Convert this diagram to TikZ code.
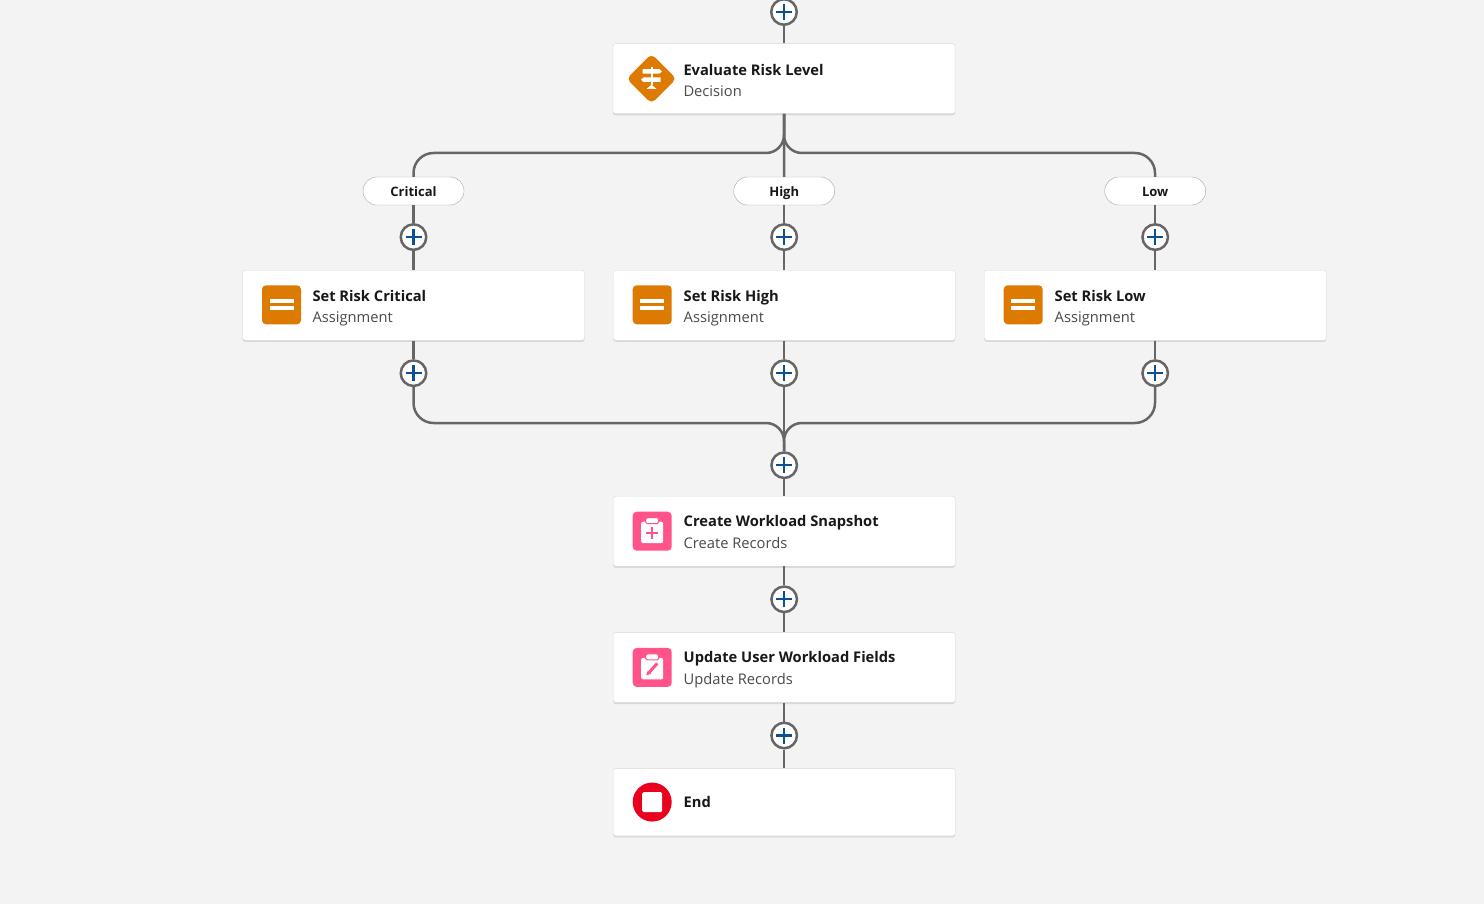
\documentclass[tikz,border=0pt]{standalone}
\usepackage{fontspec}
\setmainfont{Open Sans}
\usepackage{xcolor}
\usetikzlibrary{positioning, shapes.geometric, shadows}
\definecolor{canvasgray}{HTML}{F3F3F3}
\definecolor{linegray}{HTML}{666666}
\definecolor{plusblue}{HTML}{0B4F96}
\definecolor{decideorange}{HTML}{DD7A01}
\definecolor{recordpink}{HTML}{FF538A}
\definecolor{endred}{HTML}{EA001E}
\definecolor{titleblack}{HTML}{181818}
\definecolor{subgray}{HTML}{4A4A4A}

\tikzset{
  card/.style={draw=black!15, fill=white, rounded corners=2.5pt, minimum width=342pt, minimum height=70pt, inner sep=0pt,
    drop shadow={shadow xshift=0pt, shadow yshift=-1.6pt, opacity=.11, fill=black}},
  title/.style={anchor=west, inner sep=0pt, text height=11pt, text depth=4pt, font=\fontsize{14.7}{18}\selectfont\bfseries, text=titleblack},
  subtitle/.style={anchor=west, inner sep=0pt, text height=11pt, text depth=4pt, font=\fontsize{14.7}{18}\selectfont, text=subgray},
  pill/.style={draw=black!35, fill=white, rounded corners=14pt, minimum width=101pt, minimum height=28pt, inner sep=0pt,
    text height=11pt, text depth=0pt, font=\fontsize{13}{16}\selectfont\bfseries, text=titleblack},
  addbtn/.style={circle, draw=linegray, line width=2.5pt, fill=white, minimum size=25.5pt, inner sep=0pt,
    path picture={\draw[plusblue, line width=2.2pt] ([xshift=-8pt]path picture bounding box.center) -- ([xshift=8pt]path picture bounding box.center)
      ([yshift=-8pt]path picture bounding box.center) -- ([yshift=8pt]path picture bounding box.center);}},
  flowline/.style={draw=linegray, line width=2.5pt},
  iconsq/.style={rounded corners=4pt, minimum size=39pt, inner sep=0pt},
  pics/bars/.style={code={
    \fill[white] (-12,-5.5) rectangle (12,-1.8);
    \fill[white] (-12,1.2) rectangle (12,4.8);}},
  pics/clip/.style={code={
    \fill[white, rounded corners=2pt] (-11,-9.5) rectangle (11,12);
    \fill[white, draw=recordpink, line width=1pt, rounded corners=1.5pt] (-6.5,-13.5) rectangle (6.5,-7.5);}},
  pics/signpost/.style={code={
    \fill[white] (-1,-12) rectangle (1,6);
    \fill[white] (-9,-9.5) -- (8,-9.5) -- (10.5,-7.2) -- (8,-5) -- (-9,-5) -- cycle;
    \fill[white] (9,-1.3) -- (-8,-1.3) -- (-10.5,1) -- (-8,3.3) -- (9,3.3) -- cycle;
    \fill[white] (-5,10.3) -- (0,6) -- (5,10.3) -- cycle;}},
  pics/pencil/.style={code={
    \draw[recordpink, line width=3pt] (5,-6) -- (-3,3);
    \fill[recordpink] (-4.5,1.2) -- (-1,4.3) -- (-6,6) -- cycle;}}
}

\begin{document}
\begin{tikzpicture}[x=1pt, y=-1pt]
\useasboundingbox (0,0) rectangle (1484,904);
\fill[canvasgray] (0,0) rectangle (1484,904);

% top of the column
\node[addbtn] (addtop) at (784,12) {};
\node[card, below=17.5pt of addtop] (decide) {};

% three branches
\node[pill] (pillcrit) at (413.5,191) {Critical};
\node[pill, right=269.3pt of pillcrit] (pillhigh) {High};
\node[pill, right=269.6pt of pillhigh] (pilllow) {Low};
\node[addbtn, below=17.9pt of pillcrit] (addcrit) {};
\node[addbtn, below=17.9pt of pillhigh] (addhigh) {};
\node[addbtn, below=17.9pt of pilllow] (addlow) {};
\node[card, below=19pt of addcrit] (critical) {};
\node[card, below=19pt of addhigh] (high) {};
\node[card, below=19pt of addlow] (low) {};
\node[addbtn, below=18.7pt of critical] (addcritb) {};
\node[addbtn, below=18.7pt of high] (addhighb) {};
\node[addbtn, below=18.7pt of low] (addlowb) {};

% after the merge
\node[addbtn, below=64pt of addhighb] (addmerge) {};
\node[card, below=16.8pt of addmerge] (snapshot) {};
\node[addbtn, below=18.9pt of snapshot] (addsnap) {};
\node[card, below=18.9pt of addsnap] (update) {};
\node[addbtn, below=18.9pt of update] (addupd) {};
\node[card, minimum height=67.5pt, below=18.6pt of addupd] (finish) {};

\coordinate (splitl) at (413.5,153);
\coordinate (splitm) at (784,153);
\coordinate (splitr) at (1155,153);
\coordinate (mergel) at (413.5,423);
\coordinate (mergem) at (784,423);
\coordinate (merger) at (1155,423);

\draw[flowline] (addtop) -- (decide);
\draw[flowline] (decide.south) -- (pillhigh);
\draw[flowline] (decide.south) -- ([yshift=18pt]splitm) .. controls +(0,10) and +(10,0) .. ([xshift=-18pt]splitm) -- ([xshift=20pt]splitl) .. controls +(-11,0) and +(0,-11) .. ([yshift=-20pt]splitl) -- (pillcrit);
\draw[flowline] (decide.south) -- ([yshift=18pt]splitm) .. controls +(0,10) and +(-10,0) .. ([xshift=18pt]splitm) -- ([xshift=-20pt]splitr) .. controls +(11,0) and +(0,-11) .. ([yshift=-20pt]splitr) -- (pilllow);
\draw[flowline] (pillcrit) -- (addcrit);
\draw[flowline] (pillhigh) -- (addhigh);
\draw[flowline] (pilllow) -- (addlow);
\draw[flowline] (addcrit) -- (critical);
\draw[flowline] (addhigh) -- (high);
\draw[flowline] (addlow) -- (low);
\draw[flowline] (critical) -- (addcritb);
\draw[flowline] (high) -- (addhighb);
\draw[flowline] (low) -- (addlowb);
\draw[flowline] (addhighb) -- (addmerge);
\draw[flowline] (addcritb) -- ([yshift=20pt]mergel) .. controls +(0,11) and +(-11,0) .. ([xshift=20pt]mergel) -- ([xshift=-18pt]mergem) .. controls +(10,0) and +(0,-10) .. ([yshift=-18pt]mergem) -- (addmerge);
\draw[flowline] (addlowb) -- ([yshift=20pt]merger) .. controls +(0,11) and +(11,0) .. ([xshift=-20pt]merger) -- ([xshift=18pt]mergem) .. controls +(-10,0) and +(0,-10) .. ([yshift=-18pt]mergem) -- (addmerge);
\draw[flowline] (addmerge) -- (snapshot);
\draw[flowline] (snapshot) -- (addsnap);
\draw[flowline] (addsnap) -- (update);
\draw[flowline] (update) -- (addupd);
\draw[flowline] (addupd) -- (finish);

% icons
\node[diamond, fill=decideorange, rounded corners=5pt, minimum size=50pt, inner sep=0pt, right=13.5pt of decide.west] (iconde) {};
\pic at (iconde) {signpost};
\node[iconsq, fill=decideorange, right=19.5pt of critical.west, yshift=.5pt] (iconcr) {};
\pic at (iconcr) {bars};
\node[iconsq, fill=decideorange, right=19.5pt of high.west, yshift=.5pt] (iconhi) {};
\pic at (iconhi) {bars};
\node[iconsq, fill=decideorange, right=19.5pt of low.west, yshift=.5pt] (iconlo) {};
\pic at (iconlo) {bars};
\node[iconsq, fill=recordpink, right=19.5pt of snapshot.west] (iconsn) {};
\pic at (iconsn) {clip};
\draw[recordpink, line width=1.5pt] ([yshift=-2pt]iconsn.center) ++(-6,0) -- ++(12,0) ++(-6,-6) -- ++(0,12);
\node[iconsq, fill=recordpink, right=19.5pt of update.west] (iconup) {};
\pic at (iconup) {clip};
\pic at ([yshift=-2pt]iconup.center) {pencil};
\node[circle, fill=endred, minimum size=39pt, inner sep=0pt, right=19.5pt of finish.west] (iconen) {};
\node[fill=white, rounded corners=1.5pt, minimum size=20pt, inner sep=0pt] (stopmark) at (iconen) {};

% labels
\node[title, right=70.5pt of decide.west, yshift=7pt] (tde) {Evaluate Risk Level};
\node[subtitle, right=70.5pt of decide.west, yshift=-14.5pt] (sde) {Decision};
\node[title, right=70pt of critical.west, yshift=7.5pt] (tcr) {Set Risk Critical};
\node[subtitle, right=70pt of critical.west, yshift=-14pt] (scr) {Assignment};
\node[title, right=70.5pt of high.west, yshift=7.5pt] (thi) {Set Risk High};
\node[subtitle, right=70.5pt of high.west, yshift=-14pt] (shi) {Assignment};
\node[title, right=70.5pt of low.west, yshift=7.5pt] (tlo) {Set Risk Low};
\node[subtitle, right=70.5pt of low.west, yshift=-14pt] (slo) {Assignment};
\node[title, right=70.5pt of snapshot.west, yshift=8.5pt] (tsn) {Create Workload Snapshot};
\node[subtitle, right=70.5pt of snapshot.west, yshift=-13.5pt] (ssn) {Create Records};
\node[title, right=70.5pt of update.west, yshift=8.5pt] (tup) {Update User Workload Fields};
\node[subtitle, right=70.5pt of update.west, yshift=-13.5pt] (sup) {Update Records};
\node[title, right=70.5pt of finish.west, yshift=-2pt] (ten) {End};
\end{tikzpicture}
\end{document}
